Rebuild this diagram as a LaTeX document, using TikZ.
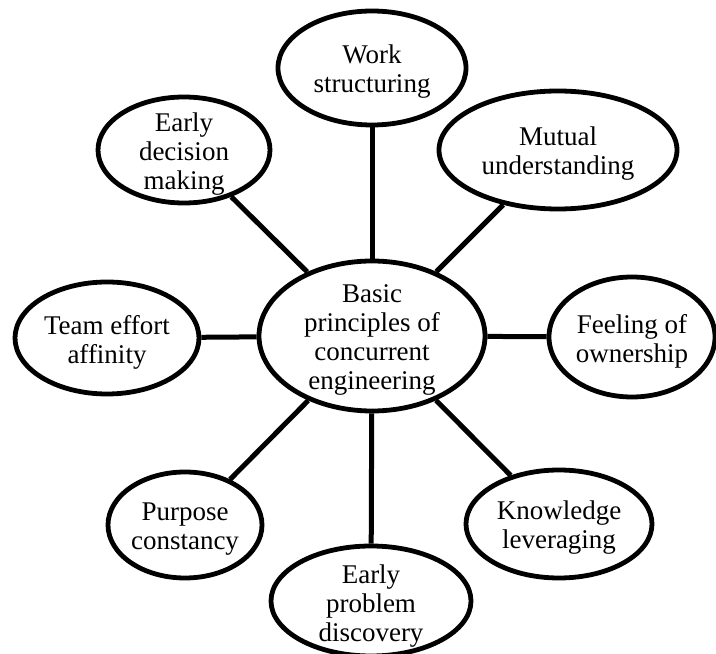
\documentclass[tikz,border=0pt]{standalone}
\usepackage{fontspec}
\setmainfont{Liberation Serif}
\usetikzlibrary{shapes.geometric}
\begin{document}
\begin{tikzpicture}[x=1pt,y=1pt,
  bubble/.style={ellipse, draw=black, line width=4.8pt, inner sep=0pt, fill=white},
  txt/.style={align=center, inner sep=0pt, font=\fontsize{27}{29}\selectfont},
  link/.style={draw=black, line width=5pt}]
\useasboundingbox (0,0) rectangle (716,654);

% hub and surrounding principles
\node[bubble, minimum width=226, minimum height=150] (hub)       at (372,318) {};
\node[bubble, minimum width=188, minimum height=114] (work)      at (372,586) {};
\node[bubble, minimum width=238, minimum height=118] (mutual)    at (558,504) {};
\node[bubble, minimum width=166, minimum height=120] (feeling)   at (632,317) {};
\node[bubble, minimum width=186, minimum height=108] (knowledge) at (559,130) {};
\node[bubble, minimum width=200, minimum height=110] (problem)   at (371,53)  {};
\node[bubble, minimum width=154, minimum height=106] (purpose)   at (185,129) {};
\node[bubble, minimum width=184, minimum height=112] (team)      at (107,316) {};
\node[bubble, minimum width=172, minimum height=106] (decision)  at (184,504) {};

% spokes
\foreach \n in {work,mutual,feeling,knowledge,problem,purpose,team,decision}
  \draw[link] (hub) -- (\n);

% labels
\node[txt] (hub-t)       at (372,314) {Basic\\principles of\\concurrent\\engineering};
\node[txt] (work-t)      at (372,582) {Work\\structuring};
\node[txt] (mutual-t)    at (558,500) {Mutual\\understanding};
\node[txt] (feeling-t)   at (632,313) {Feeling of\\ownership};
\node[txt] (knowledge-t) at (559,126) {Knowledge\\leveraging};
\node[txt] (problem-t)   at (371,48)  {Early\\problem\\discovery};
\node[txt] (purpose-t)   at (185,125) {Purpose\\constancy};
\node[txt] (team-t)      at (107,312) {Team effort\\affinity};
\node[txt] (decision-t)  at (184,500) {Early\\decision\\making};
\end{tikzpicture}
\end{document}
